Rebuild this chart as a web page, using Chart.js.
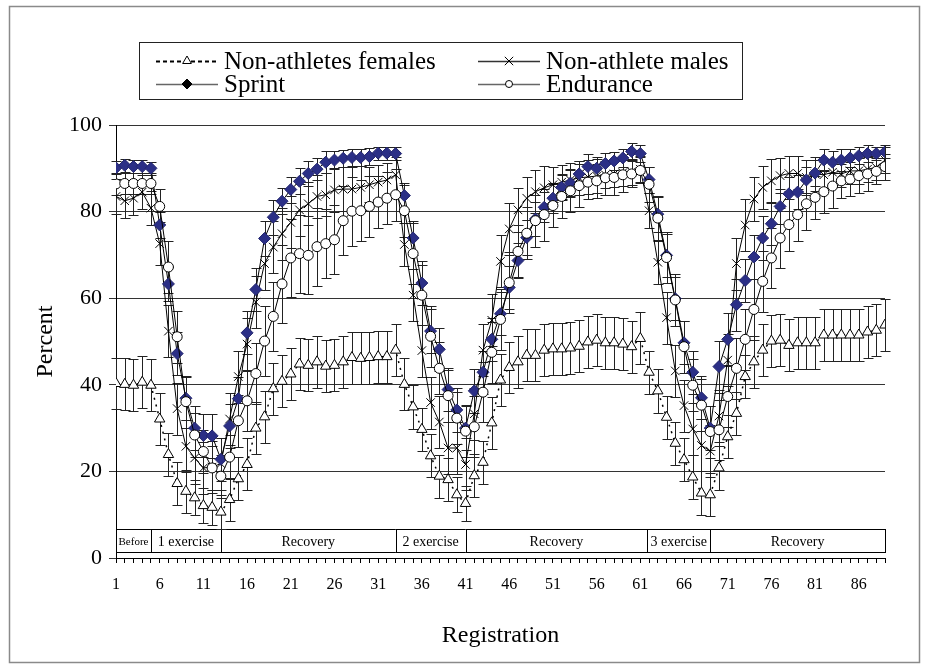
<!DOCTYPE html>
<html>
<head>
<meta charset="utf-8">
<script src="https://cdn.jsdelivr.net/npm/chart.js@4.4.1/dist/chart.umd.min.js"></script>
<style>
  html, body { margin: 0; padding: 0; background: #fff; }
  #wrap { width: 929px; height: 666px; }
</style>
</head>
<body>
<div id="wrap"><canvas id="chart" width="929" height="666"></canvas></div>
<script>
// registration number of each measurement
const registration = Array.from({ length: 89 }, (_, i) => i + 1);

// mean values (percent)
const femalesData = [
  40.3, 40.1, 39.9, 40.6, 39.9,
  32.1, 23.9, 17.2, 15.4, 13.9, 12.1, 11.7, 10.6,
  13.5, 18.3, 21.6, 30.0, 32.6, 39.1,
  40.8, 42.5, 44.8, 44.5, 45.3, 44.3, 44.5, 45.3, 46.3, 46.1, 46.3, 46.5, 46.5, 48.0,
  40.1, 34.9, 29.7, 23.6, 18.9, 18.1, 14.6, 12.6,
  19.0, 22.1, 31.2, 41.1, 44.0, 45.3, 46.8, 46.8, 48.0, 48.3, 48.3, 48.5, 48.9, 49.9, 50.3, 49.7, 49.7, 49.4, 48.8, 50.7,
  42.9, 38.6, 32.5, 26.5, 22.7, 18.7, 15.0, 14.6,
  20.8, 28.0, 33.4, 41.9, 45.3, 48.0, 50.1, 50.3, 49.1, 49.7, 49.7, 49.7, 51.5, 51.5, 51.5, 51.5, 51.5, 52.2, 52.6, 53.8
];
const malesData = [
  83.5, 82.5, 83.1, 84.5, 80.8,
  72.6, 52.4, 34.5, 25.8, 23.1, 20.8, 21.0, 21.8,
  32.1, 41.9, 49.4, 59.1, 68.0, 71.8,
  74.9, 77.5, 80.4, 81.8, 83.5, 83.9, 85.0, 85.2, 85.2, 85.6, 86.2, 86.8, 87.3, 88.5,
  72.4, 60.7, 47.9, 35.9, 31.4, 25.4, 25.4, 21.6,
  33.3, 48.0, 54.9, 68.5, 76.0, 80.4, 83.1, 84.6, 85.5, 86.2, 86.8, 87.3, 87.8, 88.0, 88.2, 88.5, 88.7, 89.0, 89.2, 89.8,
  80.2, 68.3, 55.5, 43.2, 35.2, 29.8, 26.0, 24.7,
  32.8, 45.7, 68.0, 76.9, 82.9, 85.6, 87.1, 88.3, 88.8, 88.8, 87.9, 88.7, 88.5, 89.1, 88.7, 89.4, 89.4, 89.8, 90.2, 91.9
];
const sprintData = [
  90.1, 90.7, 90.4, 90.4, 90.0,
  76.9, 63.3, 47.2, 36.9, 30.0, 28.3, 28.2, 22.8,
  30.5, 36.8, 52.0, 62.0, 73.8, 78.7,
  82.4, 85.1, 87.0, 88.8, 89.8, 91.4, 91.9, 92.3, 92.5, 92.5, 92.7, 93.5, 93.5, 93.4,
  83.7, 73.9, 63.5, 52.4, 48.2, 38.9, 34.2, 30.0,
  38.6, 42.9, 50.5, 56.4, 62.5, 68.7, 74.0, 78.3, 81.0, 83.1, 85.6, 86.6, 88.7, 90.4, 90.0, 91.1, 91.7, 92.4, 93.9, 93.4,
  87.4, 79.4, 69.9, 59.9, 49.7, 42.9, 37.0, 30.0,
  44.2, 50.5, 58.5, 64.1, 69.5, 73.9, 77.2, 81.2, 84.1, 84.5, 87.3, 88.9, 91.9, 91.4, 91.9, 92.4, 92.9, 93.4, 93.4, 93.8
];
const enduranceData = [
  86.4, 86.5, 86.5, 86.5, 86.5,
  81.2, 67.2, 51.1, 36.1, 28.4, 24.6, 20.8, 18.9,
  23.3, 31.7, 36.3, 42.6, 50.1, 55.8,
  63.3, 69.3, 70.3, 69.9, 71.9, 72.6, 73.5, 77.9, 80.1, 80.2, 81.2, 82.2, 83.1, 83.9,
  80.2, 70.3, 60.7, 51.2, 43.8, 37.5, 32.3, 29.3,
  30.3, 38.3, 47.5, 55.1, 63.6, 70.8, 75.0, 77.9, 79.3, 81.4, 83.5, 84.8, 86.0, 86.8, 87.1, 87.8, 87.9, 88.5, 88.7, 89.5,
  86.3, 78.5, 69.4, 59.6, 48.8, 39.9, 35.3, 29.2,
  29.6, 37.3, 43.8, 50.5, 57.4, 63.9, 69.3, 73.9, 77.0, 79.3, 81.8, 83.3, 84.6, 85.9, 87.1, 87.5, 88.3, 88.7, 89.3, 90.4
];

// error bar half-lengths (percent)
const femalesErr = [
  6, 6, 6, 6, 6,
  6, 5, 5, 5, 4, 4, 4, 4,
  5, 5, 6, 6, 6, 6,
  6, 6, 6, 6, 6, 6, 6, 6, 6, 6, 6, 6, 6, 6,
  6, 5, 5, 5, 5, 5, 4, 4,
  5, 5, 6, 6, 6, 6, 6, 6, 6, 6, 6, 6, 6, 6, 6, 6, 6, 6, 6, 6,
  5, 5, 5, 5, 5, 5, 5, 5,
  5, 5, 5, 5, 6, 6, 6, 6, 6, 6, 6, 6, 6, 6, 6, 6, 6, 6, 6, 6
];
const malesErr = [
  4, 4, 4, 4, 4,
  5, 6, 6, 6, 6, 6, 6, 6,
  6, 6, 6, 6, 6, 6,
  6, 6, 6, 5, 5, 5, 5, 5, 5, 5, 4, 4, 4, 4,
  5, 6, 6, 6, 6, 6, 6, 6,
  6, 6, 6, 6, 6, 5, 5, 5, 5, 4, 4, 4, 4, 4, 4, 3, 3, 3, 3, 3,
  4, 5, 6, 6, 6, 6, 6, 6,
  6, 6, 6, 6, 5, 5, 5, 4, 4, 4, 4, 4, 3, 3, 3, 3, 3, 3, 3, 3
];
const sprintErr = [
  1.5, 1.5, 1.5, 1.5, 1.5,
  3, 4, 5, 5, 5, 5, 5, 5,
  5, 5, 5, 5, 4, 4,
  3, 3, 3, 3, 2.5, 2.5, 2, 2, 2, 2, 2, 1.5, 1.5, 1.5,
  3, 4, 5, 5, 5, 5, 5, 5,
  5, 5, 5, 5, 5, 4, 4, 4, 3.5, 3.5, 3, 3, 3, 3, 2.5, 2.5, 2, 2, 2, 2,
  3, 4, 5, 5, 5, 5, 5, 5,
  6, 6, 6, 5, 5, 5, 5, 4, 4, 4, 3, 3, 2.5, 2.5, 2.5, 2, 2, 2, 1.5, 1.5
];
const enduranceErr = [
  2.5, 2.5, 2.5, 2.5, 2.5,
  4, 6, 6, 6, 5, 5, 5, 5,
  5, 6, 7, 7, 8, 8,
  9, 9, 9, 9, 9, 8, 8, 8, 8, 7, 7, 6, 6, 6,
  6, 7, 7, 7, 6, 6, 6, 6,
  7, 7, 7, 7, 7, 6, 6, 6, 6, 5, 5, 5, 5, 4, 4, 4, 4, 4, 3, 3,
  4, 5, 6, 6, 6, 6, 6, 6,
  7, 7, 7, 7, 7, 7, 7, 7, 6, 6, 6, 5, 5, 5, 4, 4, 4, 4, 3, 3
];

// experiment phases along the registration axis
const phaseNames = ["Before", "1 exercise", "Recovery", "2 exercise", "Recovery", "3 exercise", "Recovery"];
const phaseStart = [1, 5, 13, 33, 41, 61.8, 69];
const phaseEnd = [5, 13, 33, 41, 61.8, 69, 89];

const SERIF = "'Liberation Serif', 'Times New Roman', serif";

function drawMarker(ctx, style, x, y, r, fill, stroke) {
  ctx.save();
  ctx.lineWidth = 1;
  ctx.fillStyle = fill;
  ctx.strokeStyle = stroke;
  ctx.beginPath();
  if (style === "triangle") {
    ctx.moveTo(x, y - r);
    ctx.lineTo(x + r * 0.87, y + r * 0.5);
    ctx.lineTo(x - r * 0.87, y + r * 0.5);
    ctx.closePath();
    ctx.fill();
    ctx.stroke();
  } else if (style === "rectRot") {
    ctx.moveTo(x, y - r);
    ctx.lineTo(x + r, y);
    ctx.lineTo(x, y + r);
    ctx.lineTo(x - r, y);
    ctx.closePath();
    ctx.fill();
    ctx.stroke();
  } else if (style === "circle") {
    ctx.arc(x, y, r, 0, Math.PI * 2);
    ctx.fill();
    ctx.stroke();
  } else {
    ctx.moveTo(x - r * 0.7, y - r * 0.7);
    ctx.lineTo(x + r * 0.7, y + r * 0.7);
    ctx.moveTo(x + r * 0.7, y - r * 0.7);
    ctx.lineTo(x - r * 0.7, y + r * 0.7);
    ctx.stroke();
  }
  ctx.restore();
}

// white phase band at the bottom of the plot
const phasePlugin = {
  id: "phases",
  beforeDatasetsDraw(chart) {
    const { ctx, scales: { x, y } } = chart;
    const top = y.getPixelForValue(6.6);
    const bottom = y.getPixelForValue(1.3);
    ctx.save();
    ctx.strokeStyle = "#000";
    ctx.lineWidth = 1;
    phaseNames.forEach((name, i) => {
      const x0 = x.getPixelForValue(phaseStart[i]);
      const x1 = x.getPixelForValue(phaseEnd[i]);
      ctx.fillStyle = "#fff";
      ctx.fillRect(x0, top, x1 - x0, bottom - top);
      ctx.strokeRect(Math.round(x0) + 0.5, Math.round(top) + 0.5, Math.round(x1 - x0), Math.round(bottom - top));
      let size = 14;
      ctx.font = size + "px " + SERIF;
      while (ctx.measureText(name).width > x1 - x0 - 3 && size > 8) {
        size -= 1;
        ctx.font = size + "px " + SERIF;
      }
      ctx.fillStyle = "#000";
      ctx.textAlign = "center";
      ctx.textBaseline = "middle";
      ctx.fillText(name, (x0 + x1) / 2, (top + bottom) / 2 + 1);
    });
    ctx.restore();
  },
};

// vertical error bars with caps, drawn below the lines
const errorBarPlugin = {
  id: "errorBars",
  beforeDatasetsDraw(chart) {
    const { ctx, scales: { x, y } } = chart;
    ctx.save();
    ctx.strokeStyle = "#222";
    ctx.lineWidth = 1;
    chart.data.datasets.forEach((ds, di) => {
      if (!chart.isDatasetVisible(di)) return;
      ds.data.forEach((v, i) => {
        const e = ds.errors[i];
        const px = Math.round(x.getPixelForValue(registration[i])) + 0.5;
        const yTop = Math.round(y.getPixelForValue(v + e)) + 0.5;
        const yBot = Math.round(y.getPixelForValue(v - e)) + 0.5;
        ctx.beginPath();
        ctx.moveTo(px, yTop);
        ctx.lineTo(px, yBot);
        ctx.moveTo(px - 5, yTop);
        ctx.lineTo(px + 5, yTop);
        ctx.moveTo(px - 5, yBot);
        ctx.lineTo(px + 5, yBot);
        ctx.stroke();
      });
    });
    ctx.restore();
  },
};

// boxed two-column legend and outer frame
const legendPlugin = {
  id: "boxLegend",
  afterDraw(chart) {
    const { ctx } = chart;
    ctx.save();
    ctx.strokeStyle = "#8a8a8a";
    ctx.lineWidth = 1.5;
    ctx.strokeRect(9.5, 6.5, 910, 656);

    ctx.strokeStyle = "#222";
    ctx.lineWidth = 1;
    ctx.strokeRect(139.5, 42.5, 603, 57);

    const items = [
      { text: "Non-athletes females", col: 0, row: 0, dash: [4, 3], line: "#000", style: "triangle", r: 5, fill: "#fff" },
      { text: "Non-athlete males", col: 1, row: 0, dash: [], line: "#333", style: "crossRot", r: 6, fill: "#000" },
      { text: "Sprint", col: 0, row: 1, dash: [], line: "#666", style: "rectRot", r: 5, fill: "#000" },
      { text: "Endurance", col: 1, row: 1, dash: [], line: "#666", style: "circle", r: 3.5, fill: "#fff" },
    ];
    const colX = [156, 478];
    const rowY = [61, 84];
    ctx.font = "25px " + SERIF;
    ctx.textBaseline = "middle";
    ctx.textAlign = "left";
    items.forEach((it) => {
      const x0 = colX[it.col];
      const yy = rowY[it.row];
      ctx.save();
      ctx.strokeStyle = it.line;
      ctx.lineWidth = it.dash.length ? 2 : 1.5;
      ctx.setLineDash(it.dash);
      ctx.beginPath();
      ctx.moveTo(x0, yy + 0.5);
      ctx.lineTo(x0 + 62, yy + 0.5);
      ctx.stroke();
      ctx.restore();
      drawMarker(ctx, it.style, x0 + 31, yy, it.r, it.fill, "#000");
      ctx.fillStyle = "#000";
      ctx.fillText(it.text, x0 + 68, yy + 1);
    });
    ctx.restore();
  },
};

const ctx = document.getElementById("chart").getContext("2d");

new Chart(ctx, {
  type: "line",
  data: {
    labels: registration,
    datasets: [
      {
        label: "Non-athletes females",
        data: femalesData,
        errors: femalesErr,
        borderColor: "#000",
        borderWidth: 1.5,
        borderDash: [2, 5],
        pointStyle: "triangle",
        pointRadius: 6,
        pointBackgroundColor: "#fff",
        pointBorderColor: "#000",
        pointBorderWidth: 1,
        order: 4,
      },
      {
        label: "Non-athlete males",
        data: malesData,
        errors: malesErr,
        borderColor: "#000",
        borderWidth: 1,
        pointStyle: "crossRot",
        pointRadius: 6,
        pointBorderColor: "#000",
        pointBorderWidth: 1,
        order: 3,
      },
      {
        label: "Sprint",
        data: sprintData,
        errors: sprintErr,
        borderColor: "#000",
        borderWidth: 1,
        pointStyle: "rectRot",
        pointRadius: 6,
        pointBackgroundColor: "#2b2f86",
        pointBorderColor: "#23266e",
        pointBorderWidth: 1,
        order: 2,
      },
      {
        label: "Endurance",
        data: enduranceData,
        errors: enduranceErr,
        borderColor: "#000",
        borderWidth: 1,
        pointStyle: "circle",
        pointRadius: 5,
        pointBackgroundColor: "#fff",
        pointBorderColor: "#000",
        pointBorderWidth: 1,
        order: 1,
      },
    ],
  },
  options: {
    responsive: false,
    animation: false,
    devicePixelRatio: 1,
    layout: { padding: { top: 125, right: 44, left: 0, bottom: 0 } },
    plugins: {
      legend: { display: false },
      tooltip: { enabled: false },
    },
    scales: {
      x: {
        type: "linear",
        min: 1,
        max: 89,
        afterFit(scale) { scale.height = 108; },
        border: { color: "#000", width: 1 },
        grid: { drawOnChartArea: false, drawTicks: true, tickLength: 5, color: "#000" },
        ticks: {
          stepSize: 1,
          autoSkip: false,
          maxRotation: 0,
          padding: 12,
          color: "#000",
          font: { family: SERIF, size: 16 },
          callback: (v) => ((v - 1) % 5 === 0 ? String(v) : ""),
        },
        title: {
          display: true,
          text: "Registration",
          color: "#000",
          font: { family: SERIF, size: 24 },
          padding: { top: 0, bottom: 16 },
        },
      },
      y: {
        min: 0,
        max: 100,
        afterFit(scale) { scale.width = 116; },
        border: { color: "#000", width: 1 },
        grid: { color: "#333", lineWidth: 1, tickLength: 7 },
        ticks: {
          stepSize: 20,
          padding: 7,
          color: "#000",
          font: { family: SERIF, size: 22 },
        },
        title: {
          display: true,
          text: "Percent",
          color: "#000",
          font: { family: SERIF, size: 24 },
          padding: { top: 31, bottom: 0 },
        },
      },
    },
  },
  plugins: [phasePlugin, errorBarPlugin, legendPlugin],
});
</script>
</body>
</html>
